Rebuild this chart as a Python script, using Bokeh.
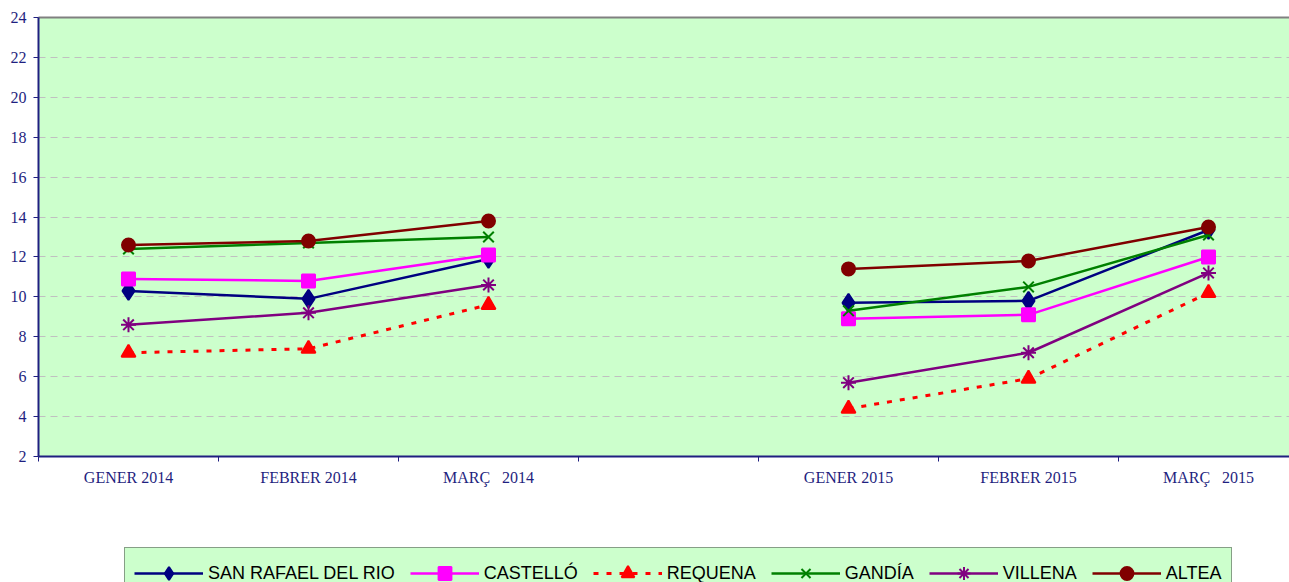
from bokeh.plotting import figure
from bokeh.models import (Range1d, FixedTicker, Legend, LegendItem, LinearAxis)
from bokeh.layouts import column
from bokeh.embed import file_html
from bokeh.resources import INLINE
import math

NAN = float("nan")

categories = ["GENER 2014", "FEBRER 2014", "MARÇ\u00a0\u00a0\u00a02014", "",
              "GENER 2015", "FEBRER 2015", "MARÇ\u00a0\u00a0\u00a02015"]

san_rafael = [10.3, 9.9, 11.9, NAN, 9.7, 9.8, 13.35]
castello   = [10.9, 10.8, 12.1, NAN, 8.9, 9.1, 12.0]
requena    = [7.2, 7.4, 9.6, NAN, 4.4, 5.9, 10.2]
gandia     = [12.4, 12.7, 13.0, NAN, 9.3, 10.5, 13.1]
villena    = [8.6, 9.2, 10.6, NAN, 5.7, 7.2, 11.2]
altea      = [12.6, 12.8, 13.8, NAN, 11.4, 11.8, 13.5]

series_names = ["SAN RAFAEL DEL RIO", "CASTELLÓ", "REQUENA", "GANDÍA", "VILLENA", "ALTEA"]
y_ticks = list(range(2, 25, 2))

xs = list(range(len(categories)))
NAVY = "#1f1f80"

p = figure(frame_width=1251, frame_height=439, output_backend="svg",
           toolbar_location=None,
           x_range=Range1d(-0.5, -0.5 + 1251 / 180.0), y_range=Range1d(2, 24),
           min_border_left=38, min_border_right=0, min_border_top=17,
           min_border_bottom=34)
p.background_fill_color = "#ccffcc"
p.border_fill_color = "white"
p.outline_line_color = None

# y axis
yax = p.yaxis[0]
yax.ticker = FixedTicker(ticks=y_ticks)
yax.axis_line_color = NAVY
yax.axis_line_width = 2
yax.major_tick_line_color = NAVY
yax.major_tick_out = 5
yax.major_tick_in = 0
yax.minor_tick_line_color = None
yax.major_label_text_font = "Liberation Serif"
yax.major_label_text_font_size = "16px"
yax.major_label_text_color = NAVY
yax.major_label_standoff = 7

# x axis
xax = p.xaxis[0]
label_idx = [i for i, c in enumerate(categories) if c]
xax.ticker = FixedTicker(ticks=label_idx, minor_ticks=[i - 0.5 for i in range(len(categories) + 1)])
xax.major_label_overrides = {i: categories[i] for i in label_idx}
xax.axis_line_color = NAVY
xax.axis_line_width = 2
xax.major_tick_line_color = None
xax.major_tick_out = 5
xax.major_tick_in = 0
xax.minor_tick_line_color = NAVY
xax.minor_tick_out = 5
xax.minor_tick_in = 0
xax.major_label_text_font = "Liberation Serif"
xax.major_label_text_font_size = "16px"
xax.major_label_text_color = NAVY
xax.major_label_standoff = 7

# top border
top = LinearAxis(ticker=FixedTicker(ticks=[]), axis_line_color="#808080", axis_line_width=2,
                 major_tick_line_color=None, minor_tick_line_color=None,
                 major_label_text_font_size="0px", major_tick_out=0, minor_tick_out=0,
                 major_label_standoff=0)
p.add_layout(top, "above")

p.xgrid.grid_line_color = None
p.ygrid.ticker = FixedTicker(ticks=y_ticks)
p.ygrid.grid_line_color = "#c0c0c0"
p.ygrid.grid_line_dash = "7 5"
p.ygrid.grid_line_width = 1

specs = [
    (san_rafael, "#000080", "solid", "diamond", 18),
    (castello, "#ff00ff", "solid", "square", 13),
    (requena, "#ff0000", "dotted", "triangle", 14),
    (gandia, "#008000", "solid", "x", 15),
    (villena, "#800080", "solid", "asterisk", 15),
    (altea, "#800000", "solid", "circle", 13),
]

# legend strip (separate figure below; its own ranges keep the proxies out of view)
p2 = figure(width=1289, height=92, output_backend="svg", toolbar_location=None,
            min_border=0, x_range=Range1d(100, 101), y_range=Range1d(100, 101))
p2.axis.visible = False
p2.grid.grid_line_color = None
p2.outline_line_color = None
p2.background_fill_color = "white"
p2.border_fill_color = "white"

items = []
for name, (vals, color, dash, marker, size) in zip(series_names, specs):
    ldash = "5 8" if dash == "dotted" else "solid"
    lw = 3 if dash == "dotted" else 2.5
    p.line(xs, vals, line_color=color, line_width=lw, line_dash=ldash)
    mx = [x for x, v in zip(xs, vals) if not math.isnan(v)]
    my = [v for v in vals if not math.isnan(v)]
    p.scatter(mx, my, marker=marker, size=size, fill_color=color,
              line_color=color, line_width=2)
    # legend proxies with the same style and data
    l2 = p2.line(mx, my, line_color=color, line_width=lw, line_dash=ldash)
    s2 = p2.scatter(mx, my, marker=marker, size=size, fill_color=color,
                    line_color=color, line_width=2)
    items.append(LegendItem(label=name, renderers=[l2, s2]))

legend = Legend(items=items, orientation="horizontal", location=(86, -17),
                glyph_width=69, glyph_height=32, label_standoff=5, spacing=15,
                padding=9, margin=0,
                label_text_font="Liberation Sans", label_text_font_size="18px",
                label_text_color="black", label_text_baseline="alphabetic",
                background_fill_color="#ccffcc", background_fill_alpha=1,
                border_line_color="#404040", border_line_width=1)
p2.add_layout(legend, "center")

layout = column(p, p2, spacing=0)
open("out.html", "w").write(file_html(layout, INLINE))
